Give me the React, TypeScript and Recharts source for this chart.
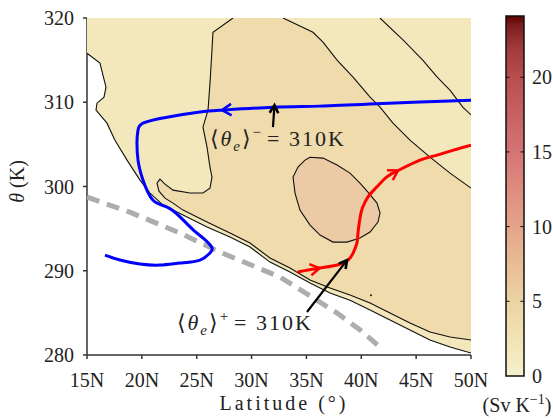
import { ComposedChart, XAxis, YAxis, Scatter, Label, ReferenceArea, ReferenceLine } from "recharts";

const SERIF = '"Liberation Serif", "DejaVu Serif", serif';

// axis settings
const latTicks = [15, 20, 25, 30, 35, 40, 45, 50];
const thetaTicks = [280, 290, 300, 310, 320];
const cbarTicks = [0, 5, 10, 15, 20];
const cbarMax = 24.1;

type Pt = { lat: number; theta: number };
const pts = (rows: number[][]): Pt[] => rows.map(([lat, theta]) => ({ lat, theta }));

// edge of the data region (white below / left of it)
const outerEdge = pts([
  [15.0, 315.82], [16.18, 314.64], [16.73, 311.79], [16.55, 310.6], [15.91, 309.89],
  [15.82, 309.06], [16.82, 307.52], [17.55, 305.5], [18.65, 303.13], [19.83, 300.76],
  [20.74, 299.22], [21.93, 297.79], [23.75, 296.61], [25.94, 295.18], [28.03, 294.0],
  [29.86, 292.81], [31.68, 291.03], [33.5, 289.85], [35.33, 288.54], [37.15, 287.36],
  [38.97, 286.5], [40.8, 285.34], [42.62, 284.15], [44.44, 282.96], [46.26, 281.78],
  [48.09, 280.94], [50.0, 280.23],
]);

// second contour level: west side, from the top edge round the hook and along the floor
const tanEdgeWest = pts([
  [28.31, 320], [26.48, 318.31], [26.39, 316.18], [26.21, 312.27], [26.03, 309.06],
  [25.57, 307.04], [25.94, 304.67], [26.21, 302.3], [26.39, 301.11], [26.21, 299.81],
  [25.57, 299.22], [24.39, 299.22], [22.84, 299.57], [22.11, 300.28], [21.65, 300.88],
  [21.38, 300.4], [21.56, 299.45], [22.11, 298.62], [22.84, 298.03], [23.75, 297.2],
  [25.94, 295.78], [28.03, 294.47], [29.86, 293.29], [31.68, 291.51], [33.5, 290.32],
  [35.33, 288.9], [37.15, 287.95], [38.97, 287.12], [40.8, 286.17], [42.62, 284.98],
  [44.44, 283.8], [46.26, 282.73], [48.09, 282.14], [50.0, 281.78],
]);

// second contour level: east side, from the right edge back up to the top
const tanEdgeEast = pts([
  [50.0, 299.81], [48.09, 301.59], [46.26, 303.49], [44.44, 305.5], [42.89, 307.52],
  [41.71, 309.42], [40.8, 310.6], [39.25, 312.98], [37.79, 314.99], [36.51, 317.13],
  [35.6, 318.31], [32.87, 320],
]);

// zero contour in the north-east corner
const eastLine = pts([
  [41.7, 320], [43.8, 317.4], [45.6, 315.0], [46.9, 313.0], [48.1, 311.4], [49.27, 309.4], [50.0, 308.5],
]);

// third contour level (closed)
const blobEdge = pts([
  [35.33, 303.47], [36.51, 303.37], [37.79, 302.54], [38.97, 301.59], [39.88, 300.4],
  [40.61, 299.34], [41.43, 298.03], [41.71, 296.84], [41.52, 295.78], [40.8, 294.59],
  [39.88, 293.88], [38.7, 293.4], [37.42, 293.4], [36.24, 294.24], [35.33, 295.42],
  [34.41, 297.2], [33.96, 299.22], [33.78, 301.12], [34.23, 302.3], [34.87, 303.13],
  [35.33, 303.47],
]);

const speck = pts([[40.89, 287.1]]);

// <theta_e>^- trajectory (runs westward)
const bluePath = pts([
  [50.0, 310.25], [44.7, 310.01], [40.8, 309.78], [36.2, 309.54], [32.0, 309.42],
  [27.3, 309.06], [25.3, 308.83], [22.3, 308.23], [20.1, 307.52], [19.65, 306.69],
  [19.56, 305.5], [19.65, 303.13], [20.1, 300.76], [21.0, 298.39], [22.3, 297.56],
  [23.5, 296.37], [24.7, 294.83], [25.8, 293.64], [26.4, 292.69], [26.2, 292.1],
  [25.3, 291.27], [23.5, 290.91], [21.65, 290.67], [19.83, 290.8], [18.0, 291.27],
  [16.64, 291.86],
]);

// <theta_e>^+ trajectory (runs eastward)
const redPath = pts([
  [34.2, 289.85], [36.2, 290.32], [37.8, 290.68], [38.8, 291.27], [39.25, 292.1],
  [39.6, 293.29], [39.7, 294.47], [39.9, 296.37], [40.1, 297.44], [40.6, 298.74],
  [41.4, 299.93], [42.3, 301.12], [43.35, 301.9], [45.35, 303.13], [46.9, 303.72],
  [48.4, 304.32], [50.0, 304.91],
]);

// surface theta
const dashedPath = pts([
  [15.0, 298.74], [18.9, 296.96], [23.5, 294.47], [27.1, 292.22], [32.6, 289.25],
  [37.8, 284.98], [39.9, 282.96], [42.0, 280.6],
]);

const minusArrow = pts([[31.95, 307.05], [32.09, 309.66]]);
const plusArrow = pts([[35.05, 285.1], [38.7, 291.27]]);
const minusLabelAt = pts([[26.2, 304.8]]);
const plusLabelAt = pts([[23.2, 283.0]]);

// colormap, value -> colour
const cmapStops: [number, string][] = [
  [0, "#f6f0cc"], [2.5, "#f2e3b4"], [5, "#ecd3a2"], [7.5, "#e8bd94"], [10, "#e4a48a"],
  [12.5, "#de8c80"], [15, "#d57474"], [17.5, "#c86262"], [20, "#b84e4e"], [22, "#a03a3a"],
  [23.5, "#7c1c1c"], [24.1, "#5c0000"],
];

// plot box
const W = 553;
const H = 420;
const M = { top: 18, right: 82, bottom: 35, left: 27 };
const Y_AXIS_W = 60;
const X_AXIS_H = 30;
const PLOT_W = W - M.left - M.right - Y_AXIS_W;
const PLOT_H = H - M.top - M.bottom - X_AXIS_H;
const PX_PER_LAT = PLOT_W / 35;
const PX_PER_K = PLOT_H / 40;

const heads = (path: Pt[], at: number[]) => at.map((i) => ({ ...path[i], from: path[i - 1] }));
const blueHeads = heads(bluePath, [5]);
const redHeads = heads(redPath, [1, 12]);
const minusHead = heads(minusArrow, [1]);
const plusHead = heads(plusArrow, [1]);

const lightRegion = [{ lat: 15, theta: 320 }, { lat: 50, theta: 320 }, ...[...outerEdge].reverse()];
const tanRegion = [...tanEdgeWest, ...tanEdgeEast];

const Empty = () => <g />;

const chevron = (color: string, len: number, width: number, spread = 0.5) => (props: any) => {
  const { cx, cy, payload } = props;
  const dx = (payload.lat - payload.from.lat) * PX_PER_LAT;
  const dy = -(payload.theta - payload.from.theta) * PX_PER_K;
  const a = Math.atan2(dy, dx);
  const x1 = cx - len * Math.cos(a - spread);
  const y1 = cy - len * Math.sin(a - spread);
  const x2 = cx - len * Math.cos(a + spread);
  const y2 = cy - len * Math.sin(a + spread);
  return (
    <path
      d={`M${x1},${y1}L${cx},${cy}L${x2},${y2}`}
      fill="none"
      stroke={color}
      strokeWidth={width}
      strokeLinejoin="miter"
    />
  );
};

const thetaLabel = (sign: string) => (props: any) => (
  <text x={props.cx} y={props.cy} fontFamily={SERIF} fontSize={22} fill="#222" letterSpacing={2}>
    <tspan>⟨</tspan>
    <tspan fontStyle="italic">θ</tspan>
    <tspan fontStyle="italic" fontSize={15} dy={5}>e</tspan>
    <tspan dy={-5}>⟩</tspan>
    <tspan fontSize={15} dy={-9}>{sign}</tspan>
    <tspan dy={9} dx={4}>= 310K</tspan>
  </text>
);

const contour = { stroke: "#111", strokeWidth: 1.1, fill: "none" };

const LatTitle = (props: any) => {
  const vb = props.viewBox;
  return (
    <text x={vb.x + vb.width / 2 + 5} y={vb.y + 55} textAnchor="middle" fontFamily={SERIF} fontSize={20} fill="#222" letterSpacing={3}>
      Latitude (°)
    </text>
  );
};

const ThetaTitle = (props: any) => {
  const vb = props.viewBox;
  const x = 17;
  const y = vb.y + vb.height / 2 - 5;
  return (
    <text x={x} y={y} transform={`rotate(-90 ${x} ${y})`} textAnchor="middle" dominantBaseline="central" fontFamily={SERIF} fontSize={20} fill="#222">
      <tspan fontStyle="italic">θ</tspan> (K)
    </text>
  );
};

const Units = (props: any) => {
  const vb = props.viewBox;
  return (
    <text x={vb.x + vb.width / 2 + 2} y={vb.y + vb.height + 36} textAnchor="middle" fontFamily={SERIF} fontSize={20} fill="#222">
      (Sv K<tspan fontSize={14} dy={-8}>−1</tspan>
      <tspan dy={8}>)</tspan>
    </text>
  );
};

const tickFont = { fontFamily: SERIF, fontSize: 20, fill: "#222" };
const axisStroke = { stroke: "#333", strokeWidth: 1.5 };

const Colorbar = () => (
  <ComposedChart width={73} height={H} margin={{ top: 16, right: 0, bottom: 44, left: 26 }} data={[{ x: 0, y: 0 }, { x: 1, y: cbarMax }]}>
    <defs>
      <linearGradient id="cmap" x1="0" y1="1" x2="0" y2="0">
        {cmapStops.map(([v, c]) => (
          <stop key={v} offset={v / cbarMax} stopColor={c} />
        ))}
      </linearGradient>
    </defs>
    <XAxis type="number" dataKey="x" domain={[0, 1]} hide />
    <YAxis
      type="number"
      dataKey="y"
      orientation="right"
      domain={[0, cbarMax]}
      ticks={cbarTicks}
      width={29}
      axisLine={false}
      tickLine={false}
      tickSize={0}
      tickMargin={8}
      tick={tickFont}
      interval={0}
    />
    <Scatter dataKey="y" shape={Empty} isAnimationActive={false} />
    <ReferenceArea
      x1={0}
      x2={1}
      y1={0}
      y2={cbarMax}
      fill="url(#cmap)"
      fillOpacity={1}
      stroke="#111"
      strokeWidth={1.5}
      label={(p: any) => <Units {...p} />}
    />
    {cbarTicks.slice(1).map((v) => (
      <ReferenceLine key={`l${v}`} segment={[{ x: 0, y: v }, { x: 0.2, y: v }]} stroke="#111" strokeWidth={1} />
    ))}
    {cbarTicks.slice(1).map((v) => (
      <ReferenceLine key={`r${v}`} segment={[{ x: 0.8, y: v }, { x: 1, y: v }]} stroke="#111" strokeWidth={1} />
    ))}
  </ComposedChart>
);

export default function App() {
  return (
    <div style={{ position: "absolute", left: 0, top: 0, width: W, height: H, background: "#fff" }}>
      <ComposedChart width={W} height={H} margin={M}>
        {/* filled contour levels */}
        <Scatter data={lightRegion} shape={Empty} line={{ fill: "#f3e8bb", stroke: "none" }} isAnimationActive={false} />
        <Scatter data={tanRegion} shape={Empty} line={{ fill: "#efdbab", stroke: "none" }} isAnimationActive={false} />
        <Scatter data={blobEdge} shape={Empty} line={{ fill: "#ebcaa5", stroke: "#111", strokeWidth: 1.1 }} isAnimationActive={false} />

        {/* contour lines */}
        <Scatter data={outerEdge} shape={Empty} line={contour} isAnimationActive={false} />
        <Scatter data={tanEdgeWest} shape={Empty} line={contour} isAnimationActive={false} />
        <Scatter data={tanEdgeEast} shape={Empty} line={contour} isAnimationActive={false} />
        <Scatter data={eastLine} shape={Empty} line={contour} isAnimationActive={false} />
        <Scatter data={speck} shape={(p: any) => <circle cx={p.cx} cy={p.cy} r={1} fill="#111" />} isAnimationActive={false} />

        <Scatter
          data={dashedPath}
          shape={Empty}
          line={{ stroke: "#adadad", strokeWidth: 5, strokeDasharray: "13 8", fill: "none" }}
          isAnimationActive={false}
        />
        <Scatter data={bluePath} shape={Empty} line={{ stroke: "#0000ff", strokeWidth: 3, fill: "none" }} lineJointType="natural" isAnimationActive={false} />
        <Scatter data={blueHeads} shape={chevron("#0000ff", 11, 2.5, 0.55)} isAnimationActive={false} />
        <Scatter data={redPath} shape={Empty} line={{ stroke: "#ff0000", strokeWidth: 3, fill: "none" }} lineJointType="natural" isAnimationActive={false} />
        <Scatter data={redHeads} shape={chevron("#ff0000", 11, 2.5, 0.55)} isAnimationActive={false} />

        {/* annotations */}
        <Scatter data={minusArrow} shape={Empty} line={{ stroke: "#000", strokeWidth: 2.2, fill: "none" }} isAnimationActive={false} />
        <Scatter data={minusHead} shape={chevron("#000", 9, 2.6)} isAnimationActive={false} />
        <Scatter data={plusArrow} shape={Empty} line={{ stroke: "#000", strokeWidth: 2.2, fill: "none" }} isAnimationActive={false} />
        <Scatter data={plusHead} shape={chevron("#000", 9, 2.6)} isAnimationActive={false} />
        <Scatter data={minusLabelAt} shape={thetaLabel("−")} isAnimationActive={false} />
        <Scatter data={plusLabelAt} shape={thetaLabel("+")} isAnimationActive={false} />

        <XAxis
          type="number"
          dataKey="lat"
          domain={[15, 50]}
          ticks={latTicks}
          interval={0}
          allowDataOverflow
          height={X_AXIS_H}
          tickFormatter={(v: number) => `${v}N`}
          tick={tickFont}
          tickSize={4}
          tickMargin={14}
          axisLine={axisStroke}
          tickLine={axisStroke}
        >
          <Label content={LatTitle} />
        </XAxis>
        <YAxis
          type="number"
          dataKey="theta"
          domain={[280, 320]}
          ticks={thetaTicks}
          interval={0}
          allowDataOverflow
          width={Y_AXIS_W}
          tick={tickFont}
          tickSize={4}
          tickMargin={9}
          axisLine={axisStroke}
          tickLine={axisStroke}
        >
          <Label content={ThetaTitle} />
        </YAxis>
      </ComposedChart>
      <div style={{ position: "absolute", left: 480, top: 0 }}>
        <Colorbar />
      </div>
    </div>
  );
}
